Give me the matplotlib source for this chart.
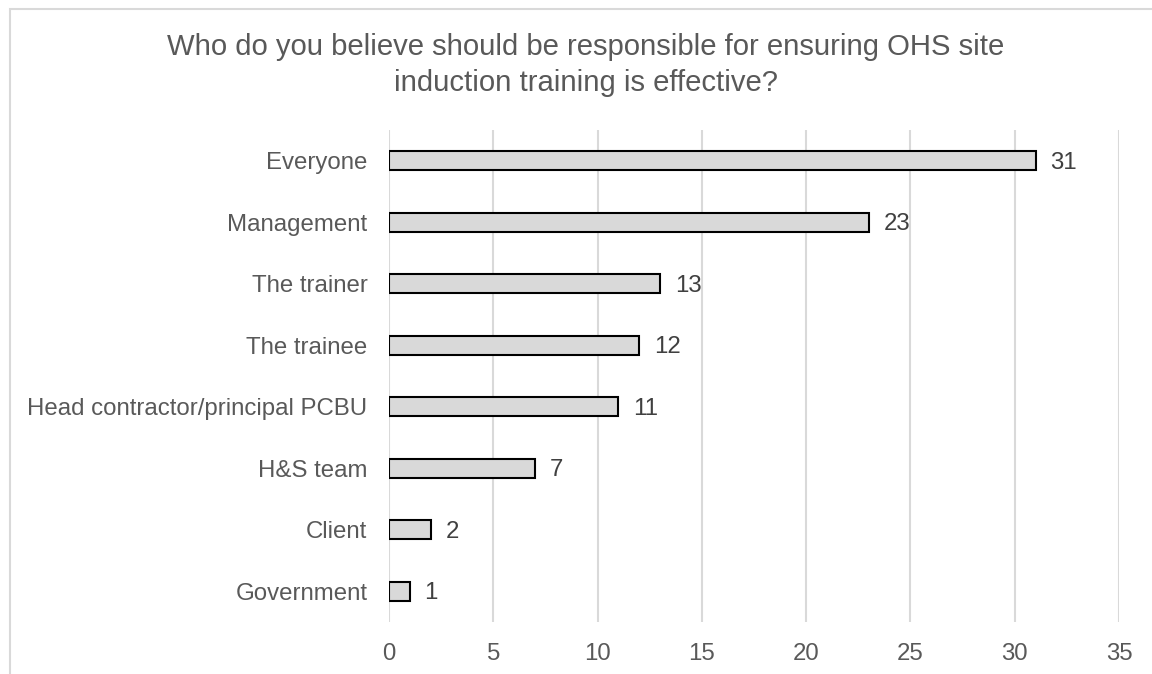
import matplotlib.pyplot as plt
from matplotlib.patches import Rectangle

# Survey responses, top to bottom
categories = ['Everyone', 'Management', 'The trainer', 'The trainee',
              'Head contractor/principal PCBU', 'H&S team', 'Client', 'Government']
counts = [31, 23, 13, 12, 11, 7, 2, 1]
xticks = [0, 5, 10, 15, 20, 25, 30, 35]

plt.rcParams['font.family'] = ['Liberation Sans', 'DejaVu Sans']
grey_text = '#595959'

fig = plt.figure(figsize=(11.52, 6.74), dpi=100)
W, H = 1152, 674
ax = fig.add_axes([389 / W, 1 - 622 / H, (1119 - 389) / W, (622 - 130) / H])

# chart area border (only left and top are in frame)
fig.patches.append(Rectangle((10 / W, -0.1), 1.2, 1 - 9 / H + 0.1, transform=fig.transFigure,
                             fill=False, edgecolor='#d9d9d9', linewidth=1.5))

ypos = list(range(len(categories)))
ax.barh(ypos, counts, height=0.31, color='#d9d9d9', edgecolor='black', linewidth=1.5, zorder=3)
for y, v in zip(ypos, counts):
    ax.text(v + 0.7, y + 0.03, str(v), va='center', ha='left', fontsize=17.3, color='#404040')

ax.set_ylim(len(categories) - 0.5, -0.5)
ax.set_xlim(0, 35)
ax.set_xticks(xticks)
ax.set_yticks(ypos)
ax.set_yticklabels(categories)
ax.tick_params(axis='both', length=0, labelsize=17.3, labelcolor=grey_text)
ax.tick_params(axis='y', pad=15.5)
ax.tick_params(axis='x', pad=15)
ax.grid(axis='x', color='#d9d9d9', linewidth=1.5, zorder=0)
for s in ax.spines.values():
    s.set_visible(False)

fig.text(586 / W, 1 - 65 / H, 'Who do you believe should be responsible for ensuring OHS site\ninduction training is effective?',
         ha='center', va='center', fontsize=21.1, color=grey_text, linespacing=1.4)

fig.savefig('out.png', dpi=100)
